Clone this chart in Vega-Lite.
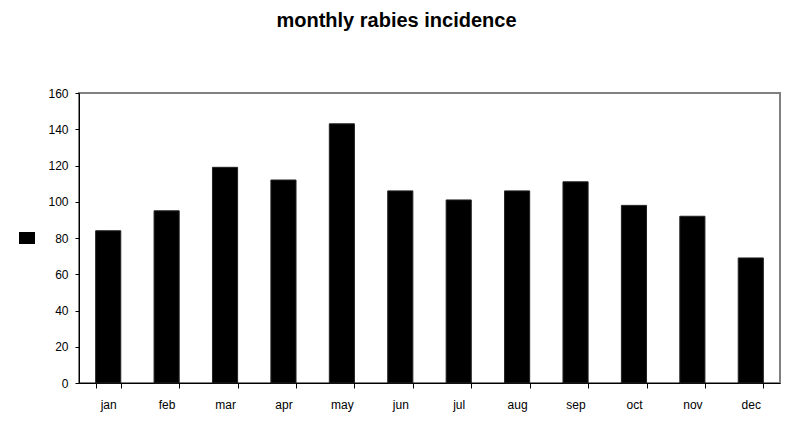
{
  "$schema": "https://vega.github.io/schema/vega-lite/v6.json",
  "width": 701,
  "height": 290,
  "autosize": "none",
  "padding": {"left": 79, "top": 93, "right": 19, "bottom": 63},
  "background": "white",
  "title": {
    "text": "monthly rabies incidence",
    "font": "Liberation Sans",
    "fontSize": 20,
    "fontWeight": "bold",
    "color": "black",
    "anchor": "middle",
    "dx": -33,
    "offset": 56
  },
  "config": {
    "view": {"stroke": "#808080", "strokeWidth": 2},
    "axis": {
      "labelFont": "Liberation Sans",
      "labelFontSize": 12,
      "labelColor": "black",
      "domainColor": "black",
      "tickColor": "black",
      "grid": false,
      "title": null
    }
  },
  "data": {
    "values": [
      {"month": "jan", "cases": 84, "series": " "},
      {"month": "feb", "cases": 95, "series": " "},
      {"month": "mar", "cases": 119, "series": " "},
      {"month": "apr", "cases": 112, "series": " "},
      {"month": "may", "cases": 143, "series": " "},
      {"month": "jun", "cases": 106, "series": " "},
      {"month": "jul", "cases": 101, "series": " "},
      {"month": "aug", "cases": 106, "series": " "},
      {"month": "sep", "cases": 111, "series": " "},
      {"month": "oct", "cases": 98, "series": " "},
      {"month": "nov", "cases": 92, "series": " "},
      {"month": "dec", "cases": 69, "series": " "}
    ]
  },
  "mark": {"type": "bar", "stroke": "#222", "strokeWidth": 1},
  "encoding": {
    "x": {
      "field": "month",
      "type": "nominal",
      "sort": null,
      "scale": {"paddingInner": 0.57, "paddingOuter": 0.285},
      "axis": {
        "labelAngle": 0,
        "tickBand": "extent",
        "tickSize": 5,
        "labelPadding": 11,
        "domainWidth": 1
      }
    },
    "y": {
      "field": "cases",
      "type": "quantitative",
      "scale": {"domain": [0, 160], "nice": false},
      "axis": {
        "values": [0, 20, 40, 60, 80, 100, 120, 140, 160],
        "tickSize": 4,
        "labelPadding": 7,
        "domainWidth": 1
      }
    },
    "color": {
      "field": "series",
      "type": "nominal",
      "scale": {"range": ["black"]},
      "legend": {
        "title": null,
        "orient": "none",
        "legendX": -62,
        "legendY": 135,
        "symbolType": "M-0.8,-0.6L0.8,-0.6L0.8,0.6L-0.8,0.6Z",
        "symbolSize": 400,
        "symbolStrokeWidth": 0,
        "labelFontSize": 1
      }
    }
  }
}
